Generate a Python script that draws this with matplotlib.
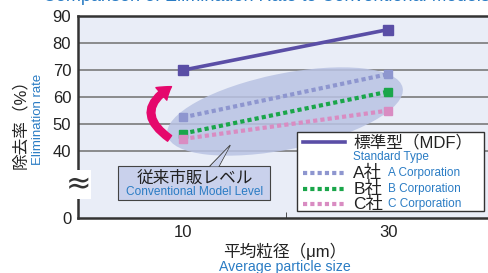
import numpy as np
import matplotlib.pyplot as plt
from matplotlib.patches import Ellipse, FancyArrowPatch, Polygon, Rectangle

plt.rcParams['font.family'] = ['Liberation Sans', 'Noto Sans CJK JP']

sizes = [10, 30]
standard = [70, 85]
corp_a = [52.5, 68.5]
corp_b = [46.5, 62]
corp_c = [44.5, 55]

grid_values = [40, 50, 60, 70, 80, 90]
axis_zero = 15.2   # position where the broken axis shows "0"

blue_txt = "#2a7cc4"
c_std = "#5a4ea6"
c_a = "#8e96cf"
c_b = "#1aa64a"
c_c = "#d98cc2"
dots = (0, (1.0, 0.75))

fig = plt.figure(figsize=(4.88, 2.73), dpi=100)
ax = fig.add_axes([0.16, 0.2015, 0.86, 0.7395])
ax.set_facecolor("#e9edf7")
ax.set_xlim(-0.25, 40.7)
ax.set_ylim(axis_zero, 90)

for g in grid_values[:-1]:
    ax.axhline(g, color="#707070", lw=1.1, zorder=1)

# conventional model ellipse (drawn in inches so the tilt is kept)
ell = Ellipse((2.85, 1.615), 2.40, 0.76, angle=11.4, facecolor="#b9c3e3", alpha=0.85,
              edgecolor="none", transform=fig.dpi_scale_trans, zorder=2)
ax.add_patch(ell)

ax.plot(sizes, standard, color=c_std, lw=2.6, marker="s", ms=7, zorder=5)
ax.plot(sizes, corp_a, color=c_a, lw=3, ls=dots, marker="s", ms=6, zorder=5)
ax.plot(sizes, corp_b, color=c_b, lw=3, ls=dots, marker="s", ms=6, zorder=5)
ax.plot(sizes, corp_c, color=c_c, lw=3, ls=dots, marker="s", ms=6, zorder=5)

ax.set_yticks([axis_zero] + grid_values)
ax.set_yticklabels(["0"] + [str(v) for v in grid_values], fontsize=12, color="#222222")
ax.set_xticks(sizes)
ax.set_xticklabels([str(s) for s in sizes], fontsize=12, color="#222222")
ax.tick_params(axis="both", length=0, pad=5)
ax.set_xticks([20], minor=True)
ax.tick_params(axis="x", which="minor", direction="in", length=4, color="#333333")

for side in ["left", "bottom", "top"]:
    ax.spines[side].set_color("#333333")
    ax.spines[side].set_linewidth(1.8)
ax.spines["right"].set_visible(False)

# axis break mark
ax.text(-0.25, 27.6, "≈", fontsize=22, ha="center", va="center", color="#333333",
        family="DejaVu Sans",
        bbox=dict(boxstyle="square,pad=0.0", fc="white", ec="none"), zorder=6,
        clip_on=False)

# pink arrow
arr = FancyArrowPatch((8.9, 44.1), (9.1, 64.4), connectionstyle="arc3,rad=-0.8",
                      arrowstyle="simple,head_width=12,head_length=9,tail_width=5",
                      color="#e5086c", zorder=6)
ax.add_patch(arr)

# callout box with pointer
box_fc = "#c9d1ec"
ax.add_patch(Polygon([[12.6, 34.4], [13.5, 34.4], [14.6, 42.2]], closed=True,
                     facecolor=box_fc, edgecolor="#444444", lw=0.8, zorder=6))
ax.add_patch(Rectangle((3.66, 21.9), 14.83, 12.5, facecolor=box_fc, edgecolor="#444444",
                       lw=0.8, zorder=7))
ax.add_patch(Polygon([[12.65, 34.3], [13.45, 34.3], [14.5, 41.6]], closed=True,
                     facecolor=box_fc, edgecolor="none", zorder=8))
ax.text(11.1, 30.0, "従来市販レベル", fontsize=12, ha="center", va="center",
        color="#222222", zorder=9)
ax.text(11.1, 24.8, "Conventional Model Level", fontsize=8.6, ha="center", va="center",
        color=blue_txt, zorder=9)

# legend box
ax.add_patch(Rectangle((21.1, 17.8), 18.3, 29.2, facecolor="white", edgecolor="#333333",
                       lw=1.0, zorder=7))
ax.plot([21.66, 25.8], [43.3, 43.3], color=c_std, lw=2.6, zorder=8)
ax.text(26.6, 43.3, "標準型（MDF）", fontsize=12, ha="left", va="center",
        color="#222222", zorder=9)
ax.text(26.6, 37.9, "Standard Type", fontsize=8.5, ha="left", va="center",
        color=blue_txt, zorder=9)
for col, jp, en, yv in [(c_a, "A社", "A Corporation", 31.9),
                        (c_b, "B社", "B Corporation", 26.0),
                        (c_c, "C社", "C Corporation", 20.4)]:
    ax.plot([21.66, 25.8], [yv, yv], color=col, lw=3, ls=dots, zorder=8)
    ax.text(26.6, yv, jp, fontsize=12.5, ha="left", va="center", color="#222222", zorder=9)
    ax.text(30.0, yv, en, fontsize=8.5, ha="left", va="center", color=blue_txt, zorder=9)

# axis labels
fig.text(0.041, 0.562, "除去率（%）", rotation=90, fontsize=12, ha="center", va="center",
         color="#222222")
fig.text(0.078, 0.562, "Elimination rate", rotation=90, fontsize=9.5, ha="center",
         va="center", color=blue_txt)
fig.text(0.584, 0.081, "平均粒径（μm）", fontsize=12, ha="center", va="center",
         color="#222222")
fig.text(0.584, 0.022, "Average particle size", fontsize=10.2, ha="center", va="center",
         color=blue_txt)

# title cut off at top
fig.text(0.088, 0.998, "Comparison of Elimination Rate to Conventional Models",
         fontsize=13, ha="left", va="baseline", color=blue_txt)

fig.savefig("out.png", dpi=100)
